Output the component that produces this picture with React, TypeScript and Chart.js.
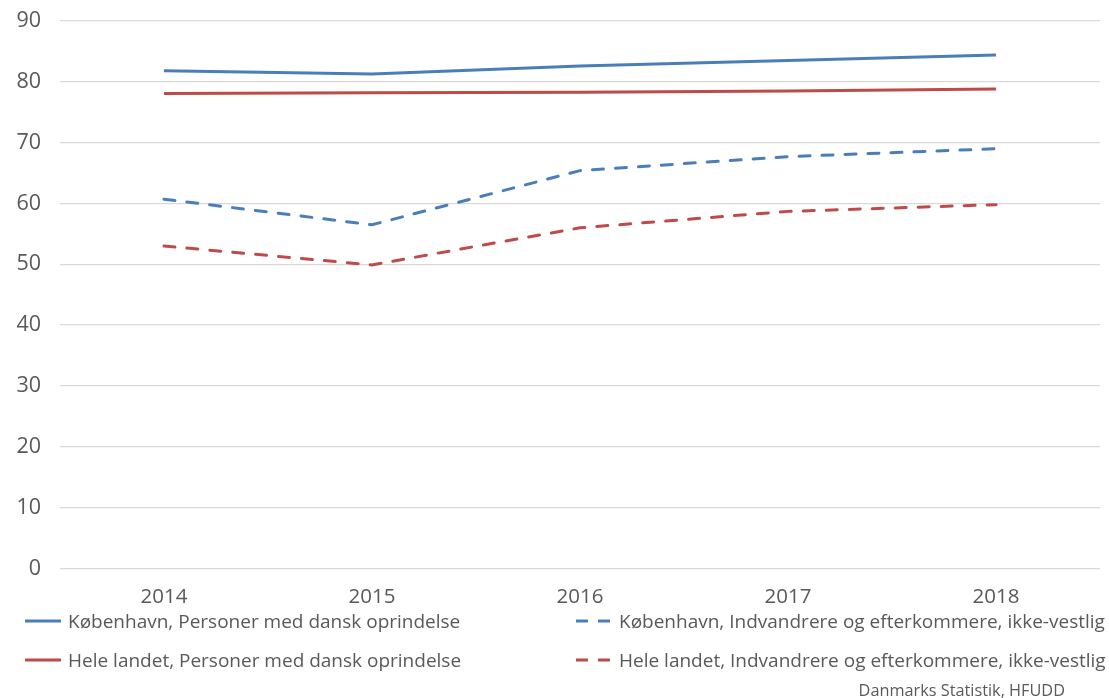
import React, { useEffect, useRef } from "react";
import { Chart, registerables } from "chart.js";

Chart.register(...registerables);

const years = ["2014", "2015", "2016", "2017", "2018"];
const kbhDansk = [81.8, 81.3, 82.6, 83.5, 84.4];
const heleDansk = [78.1, 78.2, 78.3, 78.5, 78.8];
const kbhIkkeVestlig = [60.7, 56.5, 65.4, 67.7, 69.0];
const heleIkkeVestlig = [53.0, 49.9, 56.0, 58.7, 59.8];

const seriesNames = [
  "København, Personer med dansk oprindelse",
  "København, Indvandrere og efterkommere, ikke-vestlig",
  "Hele landet, Personer med dansk oprindelse",
  "Hele landet, Indvandrere og efterkommere, ikke-vestlig",
];
const sourceText = "Danmarks Statistik, HFUDD";

const BLUE = "#4a7ebb";
const RED = "#be4b48";
const FONT = "'Open Sans', 'Noto Sans', sans-serif";

export default function App() {
  const ref = useRef<HTMLCanvasElement | null>(null);

  useEffect(() => {
    document.body.style.margin = "0";
    const ctx = ref.current!.getContext("2d")!;
    const chart = new Chart(ctx, {
      type: "line",
      data: {
        labels: years,
        datasets: [
          { label: seriesNames[0], data: kbhDansk, borderColor: BLUE, borderWidth: 3, pointRadius: 0, tension: 0 },
          { label: seriesNames[2], data: heleDansk, borderColor: RED, borderWidth: 3, pointRadius: 0, tension: 0 },
          { label: seriesNames[1], data: kbhIkkeVestlig, borderColor: BLUE, borderWidth: 3, borderDash: [11, 12], borderCapStyle: "round", pointRadius: 0, tension: 0 },
          { label: seriesNames[3], data: heleIkkeVestlig, borderColor: RED, borderWidth: 3, borderDash: [11, 12], borderCapStyle: "round", pointRadius: 0, tension: 0 },
        ],
      },
      options: {
        animation: false,
        responsive: false,
        layout: { padding: { top: 21, right: 9, bottom: 73, left: 0 } },
        plugins: { legend: { display: false }, tooltip: { enabled: false } },
        scales: {
          x: {
            offset: true,
            grid: { display: false, drawTicks: false },
            border: { display: false },
            ticks: { color: "#595959", font: { family: FONT, size: 20.5 }, padding: 16 },
          },
          y: {
            min: 0,
            max: 90,
            afterFit: (s: any) => { s.width = 60; s.paddingTop = 0; s.paddingBottom = 0; },
            grid: { color: "#d9d9d9", lineWidth: 1.3, drawTicks: false },
            border: { display: false },
            ticks: { stepSize: 10, color: "#595959", font: { family: FONT, size: 21.5 }, padding: 19 },
          },
        },
      },
    });
    return () => chart.destroy();
  }, []);

  const legendItems = [
    { name: seriesNames[0], color: BLUE, dashed: false, left: 24, top: 611 },
    { name: seriesNames[1], color: BLUE, dashed: true, left: 575, top: 611 },
    { name: seriesNames[2], color: RED, dashed: false, left: 24, top: 650 },
    { name: seriesNames[3], color: RED, dashed: true, left: 575, top: 650 },
  ];

  return (
    <div style={{ position: "relative", width: 1109, height: 698, fontFamily: FONT }}>
      <canvas ref={ref} width={1109} height={698} style={{ position: "absolute", left: 0, top: 0 }} />
      {legendItems.map((it) => (
        <div key={it.name} style={{ position: "absolute", left: it.left, top: it.top, display: "flex", alignItems: "center", height: 20, whiteSpace: "nowrap" }}>
          <svg width={38} height={6} style={{ marginRight: 6 }}>
            <line x1={1} y1={3} x2={37} y2={3} stroke={it.color} strokeWidth={3} strokeDasharray={it.dashed ? "12 10" : undefined} />
          </svg>
          <span style={{ fontSize: 19, color: "#595959" }}>{it.name}</span>
        </div>
      ))}
      <div style={{ position: "absolute", right: 44, top: 679, fontSize: 16.3, color: "#595959", whiteSpace: "nowrap" }}>{sourceText}</div>
    </div>
  );
}
